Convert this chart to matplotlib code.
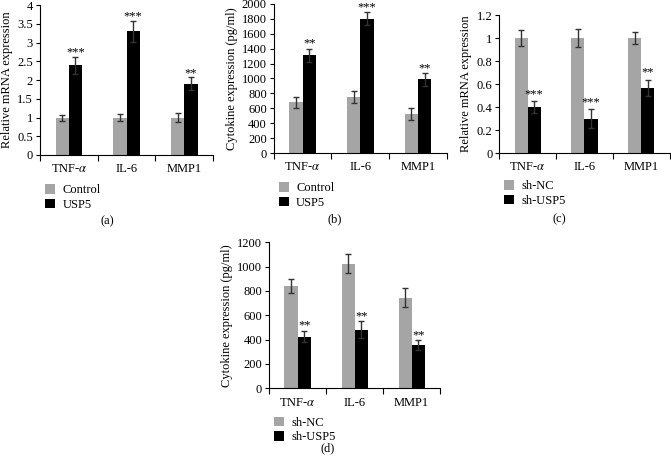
import numpy as np
import matplotlib.pyplot as plt

plt.rcParams['font.family'] = ['Liberation Serif', 'DejaVu Serif']
plt.rcParams['mathtext.fontset'] = 'stix'

genes = ['TNF-$\\alpha$', 'IL-6', 'MMP1']

# (a) relative mRNA, overexpression
a_ctrl = [1.0, 1.0, 1.0]
a_ctrl_err = [0.08, 0.1, 0.13]
a_usp5 = [2.4, 3.3, 1.9]
a_usp5_err = [0.23, 0.28, 0.17]
a_stars = ['***', '***', '**']

# (b) cytokine, overexpression
b_ctrl = [680, 750, 525]
b_ctrl_err = [75, 85, 85]
b_usp5 = [1310, 1800, 990]
b_usp5_err = [90, 90, 85]
b_stars = ['**', '***', '**']

# (c) relative mRNA, knockdown
c_nc = [1.0, 1.0, 1.0]
c_nc_err = [0.07, 0.08, 0.05]
c_sh = [0.4, 0.3, 0.57]
c_sh_err = [0.05, 0.08, 0.07]
c_stars = ['***', '***', '**']

# (d) cytokine, knockdown
d_nc = [840, 1025, 745]
d_nc_err = [55, 80, 75]
d_sh = [425, 480, 355]
d_sh_err = [45, 70, 40]
d_stars = ['**', '**', '**']

GREY = '#a5a5a5'
BLACK = '#000000'
FS = 9


def panel(ax, v1, e1, v2, e2, stars, labels, ylim, yticks, ylabel, ticklabels,
          caption, cap_x, cap_dy, star_off):
    x = np.arange(len(genes))
    w = 0.23
    ekw = dict(ecolor='#333333', elinewidth=1, capsize=2.5, capthick=1)
    ax.bar(x - w / 2, v1, w, color=GREY, yerr=e1, error_kw=ekw, label=labels[0])
    ax.bar(x + w / 2, v2, w, color=BLACK, yerr=e2, error_kw=ekw, label=labels[1])
    for xi, v, e, s in zip(x, v2, e2, stars):
        ax.text(xi + w / 2, v + e + star_off, s, ha='center', va='bottom', fontsize=FS)
    ax.set_xlim(-0.5, len(genes) - 0.5)
    ax.set_ylim(*ylim)
    ax.set_yticks(yticks)
    ax.set_yticklabels(ticklabels, fontsize=FS)
    ax.set_xticks(x)
    ax.set_xticklabels(genes, fontsize=FS)
    ax.tick_params(axis='x', length=0, pad=6)
    ax.set_xticks(np.arange(-0.5, len(genes)), minor=True)
    ax.tick_params(axis='x', which='minor', length=4, width=0.8)
    ax.tick_params(axis='y', length=3, width=0.8, pad=2)
    ax.set_ylabel(ylabel, fontsize=FS, labelpad=3)
    for s in ['top', 'right']:
        ax.spines[s].set_visible(False)
    for s in ['left', 'bottom']:
        ax.spines[s].set_linewidth(0.8)
    ax.legend(loc='upper left', bbox_to_anchor=(0.0, -0.16), frameon=False, fontsize=FS,
              handlelength=0.8, handleheight=0.8, handletextpad=0.6, labelspacing=0.2,
              borderaxespad=0)
    ax.annotate(caption, xy=(cap_x, 0), xycoords='axes fraction',
                xytext=(0, -cap_dy), textcoords='offset pixels',
                ha='center', va='center', fontsize=FS)


fig = plt.figure(figsize=(6.71, 4.74), dpi=100)

ax_a = fig.add_axes([0.0596, 0.673, 0.258, 0.316])
panel(ax_a, a_ctrl, a_ctrl_err, a_usp5, a_usp5_err, a_stars, ['Control', 'USP5'],
      (0, 4), np.arange(0, 4.01, 0.5), 'Relative mRNA expression',
      ['0', '0.5', '1', '1.5', '2', '2.5', '3', '3.5', '4'], '(a)', 0.387, 66, -0.05)

ax_b = fig.add_axes([0.408, 0.677, 0.258, 0.315])
panel(ax_b, b_ctrl, b_ctrl_err, b_usp5, b_usp5_err, b_stars, ['Control', 'USP5'],
      (0, 2000), np.arange(0, 2001, 200), 'Cytokine expression (pg/ml)',
      [str(v) for v in range(0, 2001, 200)], '(b)', 0.35, 66, -15)

ax_c = fig.add_axes([0.744, 0.677, 0.254, 0.291])
panel(ax_c, c_nc, c_nc_err, c_sh, c_sh_err, c_stars, ['sh-NC', 'sh-USP5'],
      (0, 1.2), np.arange(0, 1.21, 0.2), 'Relative mRNA expression',
      ['0', '0.2', '0.4', '0.6', '0.8', '1', '1.2'], '(c)', 0.355, 66, 0.01)

ax_d = fig.add_axes([0.401, 0.181, 0.255, 0.308])
panel(ax_d, d_nc, d_nc_err, d_sh, d_sh_err, d_stars, ['sh-NC', 'sh-USP5'],
      (0, 1200), np.arange(0, 1201, 200), 'Cytokine expression (pg/ml)',
      [str(v) for v in range(0, 1201, 200)], '(d)', 0.34, 60, -6)

fig.savefig('out.png', dpi=100)
